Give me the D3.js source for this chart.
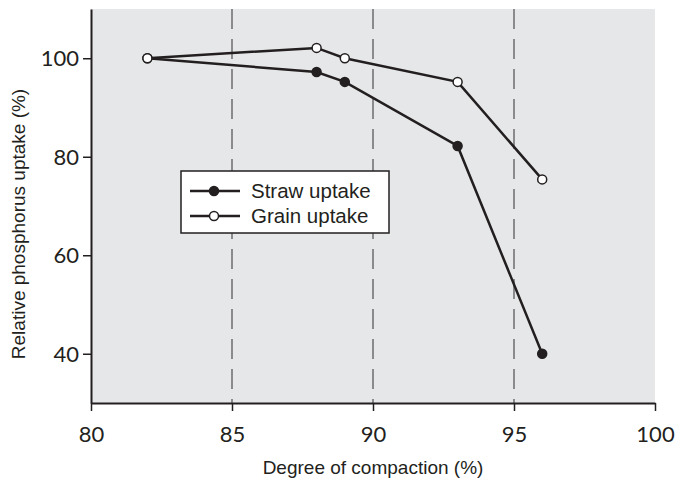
<!DOCTYPE html>
<html>
<head>
<meta charset="utf-8">
<script src="https://cdn.jsdelivr.net/npm/d3@7"></script>
<style>
  body { margin: 0; background: #fff; }
  svg { display: block; }
</style>
</head>
<body>
<svg width="675" height="479"></svg>
<script>
var compaction = [82, 88, 89, 93, 96];
var strawUptake = [100, 97.2, 95.2, 82.2, 40];
var grainUptake = [100, 102.1, 100, 95.2, 75.4];
var xTicks = [80, 85, 90, 95, 100];
var yTicks = [40, 60, 80, 100];
var gridValues = [85, 90, 95];
var seriesNames = ['Straw uptake', 'Grain uptake'];

var svg = d3.select('svg');

var plotLeft = 91, plotRight = 655, plotTop = 9, plotBottom = 403;

var xScale = d3.scaleLinear().domain([80, 100]).range([plotLeft, plotRight]);
var yScale = d3.scaleLinear().domain([30, 110]).range([plotBottom, plotTop]);

var ink = '#231f20';

// plot background
svg.append('rect')
	.attr('x', plotLeft)
	.attr('y', plotTop)
	.attr('width', plotRight - plotLeft)
	.attr('height', plotBottom - plotTop)
	.attr('fill', '#e6e7e8');

// dashed grid lines
svg.append('g')
	.selectAll('line')
	.data(gridValues)
	.enter()
	.append('line')
	.attr('x1', function (d) { return xScale(d); })
	.attr('x2', function (d) { return xScale(d); })
	.attr('y1', plotTop)
	.attr('y2', plotBottom)
	.attr('stroke', '#6d6e70')
	.attr('stroke-width', 1.5)
	.attr('stroke-dasharray', '20,10');

var xAxis = d3.axisBottom(xScale).tickValues(xTicks).tickSize(8).tickSizeOuter(0);
var yAxis = d3.axisLeft(yScale).tickValues(yTicks).tickSize(8).tickSizeOuter(0);

var gx = svg.append('g')
	.attr('transform', 'translate(0,' + plotBottom + ')')
	.call(xAxis);

var gy = svg.append('g')
	.attr('transform', 'translate(' + plotLeft + ',0)')
	.call(yAxis);

[gx, gy].forEach(function (g) {
	g.select('.domain').attr('stroke', ink).attr('stroke-width', 2);
	g.selectAll('.tick line').attr('stroke', ink).attr('stroke-width', 1.5);
	g.selectAll('.tick text')
		.attr('fill', ink)
		.style('font-family', 'Lato, "Open Sans", sans-serif')
		.style('font-size', '22px');
});
gx.selectAll('.tick text').attr('dy', '1.25em');
gy.selectAll('.tick text').attr('x', -12).attr('dy', '0.35em');

// axis titles
svg.append('text')
	.attr('x', (plotLeft + plotRight) / 2)
	.attr('y', 474)
	.attr('text-anchor', 'middle')
	.attr('fill', ink)
	.style('font-family', '"Liberation Sans", Arial, sans-serif')
	.style('font-size', '19px')
	.text('Degree of compaction (%)');

svg.append('text')
	.attr('transform', 'translate(25,224) rotate(-90)')
	.attr('text-anchor', 'middle')
	.attr('fill', ink)
	.style('font-family', '"Liberation Sans", Arial, sans-serif')
	.style('font-size', '19px')
	.text('Relative phosphorus uptake (%)');

var line = d3.line()
	.x(function (d) { return xScale(d[0]); })
	.y(function (d) { return yScale(d[1]); });

var series = [
	{ name: seriesNames[0], values: d3.zip(compaction, strawUptake), fill: ink },
	{ name: seriesNames[1], values: d3.zip(compaction, grainUptake), fill: '#fff' }
];

series.forEach(function (s) {
	svg.append('path')
		.datum(s.values)
		.attr('d', line)
		.attr('fill', 'none')
		.attr('stroke', ink)
		.attr('stroke-width', 2.5);
});

series.forEach(function (s) {
	svg.append('g')
		.selectAll('circle')
		.data(s.values)
		.enter()
		.append('circle')
		.attr('cx', function (d) { return xScale(d[0]); })
		.attr('cy', function (d) { return yScale(d[1]); })
		.attr('r', 4.5)
		.attr('fill', s.fill)
		.attr('stroke', ink)
		.attr('stroke-width', 1.5);
});

// legend
var legend = svg.append('g').attr('transform', 'translate(181,171)');
legend.append('rect')
	.attr('width', 208)
	.attr('height', 62)
	.attr('fill', '#fff')
	.attr('stroke', ink)
	.attr('stroke-width', 1.5);

var items = legend.selectAll('g.item')
	.data(series)
	.enter()
	.append('g')
	.attr('class', 'item')
	.attr('transform', function (d, i) { return 'translate(0,' + (20 + i * 25) + ')'; });

items.append('line')
	.attr('x1', 9)
	.attr('x2', 59)
	.attr('stroke', ink)
	.attr('stroke-width', 2.5);

items.append('circle')
	.attr('cx', 33)
	.attr('r', 4.5)
	.attr('fill', function (d) { return d.fill; })
	.attr('stroke', ink)
	.attr('stroke-width', 1.5);

items.append('text')
	.attr('x', 70)
	.attr('dy', '0.35em')
	.attr('fill', ink)
	.style('font-family', '"Liberation Sans", Arial, sans-serif')
	.style('font-size', '20.5px')
	.text(function (d) { return d.name; });
</script>
</body>
</html>
